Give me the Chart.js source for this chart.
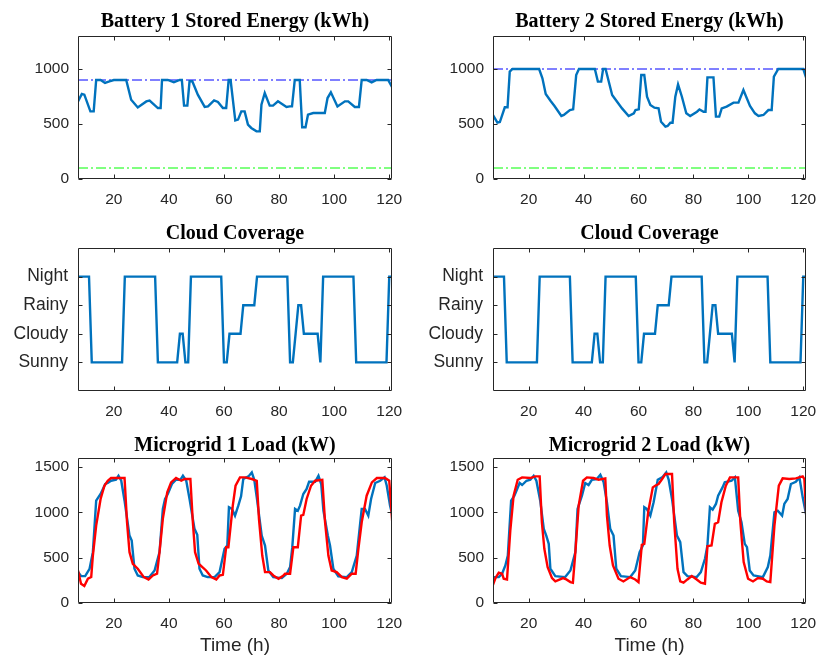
<!DOCTYPE html>
<html lang="en">
<head>
  <meta charset="UTF-8" />
  <title>Battery, Cloud Coverage and Load</title>
  <script src="https://cdn.jsdelivr.net/npm/chart.js"></script>
  <style>
    body {
      margin: 0;
      background: #fff;
      width: 820px;
      height: 659px;
      position: relative;
      overflow: hidden;
    }
    .panel {
      position: absolute;
    }
  </style>
</head>
<body>
  <div class="panel" style="left:0;top:0"><canvas id="bat1" width="410" height="215"></canvas></div>
  <div class="panel" style="left:410px;top:0"><canvas id="bat2" width="410" height="215"></canvas></div>
  <div class="panel" style="left:0;top:215px"><canvas id="cloud1" width="410" height="215"></canvas></div>
  <div class="panel" style="left:410px;top:215px"><canvas id="cloud2" width="410" height="215"></canvas></div>
  <div class="panel" style="left:0;top:430px"><canvas id="load1" width="410" height="229"></canvas></div>
  <div class="panel" style="left:410px;top:430px"><canvas id="load2" width="410" height="229"></canvas></div>

  <script>
    // time axis
    const hourRange = [7, 121];
    const hourTicks = [20, 40, 60, 80, 100, 120];

    // battery 1 stored energy (kWh)
    const bat1Hours = [
      7, 8.4, 9.3, 11.5, 12.7, 13.6, 15.2, 16.8, 18.4, 20,
      24.5, 26.3, 28.7, 31.8, 33, 36, 37, 37.5, 39.6, 41.8,
      43.9, 44.7, 45.5, 46.7, 47.5, 48.5, 50.5, 53, 54.2, 56.4,
      57.8, 59.6, 60.8, 61.7, 62.4, 64.1, 65.1, 66.3, 67.5, 68.7,
      69.9, 71.8, 73, 73.6, 74.8, 76.6, 77.8, 79.6, 82.7, 83.9,
      84.7, 85.7, 87.5, 88.4, 89.6, 90.5, 92.4, 96.6, 97.6, 98.8,
      101.2, 103.9, 105.1, 107.5, 109, 110, 111.8, 113.6, 115.4, 119.6,
      121
    ];
    const bat1Energy = [
      706, 773, 767, 615, 615, 900, 900, 873, 888, 900,
      900, 720, 650, 705, 712, 645, 645, 900, 900, 879,
      900, 900, 667, 667, 888, 888, 767, 655, 660, 715,
      700, 645, 645, 900, 900, 533, 540, 615, 615, 494,
      464, 433, 433, 676, 782, 667, 667, 706, 655, 660,
      660, 900, 900, 470, 470, 585, 600, 600, 736, 788,
      660, 706, 706, 655, 655, 900, 900, 879, 900, 900,
      836
    ];
    const bat1Max = 900;

    // battery 2 stored energy (kWh)
    const bat2Hours = [
      7, 8.6, 9.5, 11.3, 12.3, 13.1, 14.1, 23.8, 25, 26.2,
      28, 29.4, 31.9, 32.8, 35, 36.2, 37.3, 38.3, 44.1, 45.2,
      46.4, 47.1, 48, 50.4, 52.2, 54, 56.4, 58.3, 58.9, 60.1,
      61, 62.1, 63.1, 64.3, 65.8, 67.3, 68.2, 69.8, 70.6, 71.6,
      72.4, 73.4, 74.4, 75.8, 77.4, 78.8, 81.3, 82.2, 83.7, 84.4,
      85.1, 87.3, 88.2, 89.4, 90.3, 92.1, 94.6, 96.4, 98.2, 100.6,
      102.4, 103.7, 105.5, 107.3, 108.5, 109.3, 110.9, 120, 121
    ];
    const bat2Energy = [
      582, 512, 518, 652, 652, 976, 1000, 1000, 915, 773,
      709, 664, 573, 582, 627, 633, 945, 1000, 1000, 885,
      885, 1000, 1000, 764, 703, 642, 573, 597, 627, 633,
      945, 945, 748, 673, 648, 642, 521, 476, 482, 512,
      512, 748, 860, 748, 597, 573, 612, 633, 612, 612,
      924, 924, 567, 567, 642, 658, 694, 694, 809, 664,
      597, 573, 582, 627, 627, 930, 1000, 1000, 924
    ];
    const bat2Max = 1000;
    const batMin = 100;

    // cloud coverage (same weather for both microgrids)
    const cloudLabels = ['Sunny', 'Cloudy', 'Rainy', 'Night'];
    const cloudHours = [
      7, 11, 12, 23, 24, 35, 36, 43, 44, 45,
      46, 47, 48, 59, 60, 61, 62, 66, 67, 71,
      72, 83, 84, 85, 86, 87, 88, 89, 94, 95,
      96, 107, 108, 119, 120, 121
    ];
    const cloudState = [
      4, 4, 1, 1, 4, 4, 1, 1, 2, 2,
      1, 1, 4, 4, 1, 1, 2, 2, 3, 3,
      4, 4, 1, 1, 2, 3, 3, 2, 2, 1,
      4, 4, 1, 1, 4, 4
    ];

    // microgrid 1 load (kW): blue and red traces
    const load1BlueHours = [
      7, 8.1, 9.6, 11.2, 12.4, 13.6, 15.2, 16.9, 17.8, 19,
      20.8, 21.7, 22.7, 23.9, 25.7, 26.5, 27.5, 28.7, 30.5, 32.9,
      34.8, 36.6, 37.8, 38.6, 39.6, 41.1, 42.6, 44.2, 45.1, 46.3,
      47.5, 49.3, 50.3, 51.1, 52.3, 54.1, 56.6, 58.4, 60.2, 61.2,
      61.8, 62.9, 64, 65.2, 66.2, 67, 68.9, 70.1, 71, 71.9,
      73.7, 74.9, 76.1, 77.9, 81, 82.8, 84, 84.8, 85.8, 86.8,
      87.6, 88.8, 90, 90.9, 93.1, 94.3, 95.3, 96.1, 97.7, 98.5,
      99.7, 101.5, 104.6, 106.4, 108.2, 110, 111.2, 112.4, 113.4, 114.9,
      116.7, 118.3, 119.1, 120.3, 121.2
    ];
    const load1Blue = [
      341, 297, 297, 378, 561, 1129, 1203, 1313, 1324, 1349,
      1360, 1404, 1349, 1129, 744, 689, 378, 304, 286, 286,
      359, 561, 1038, 1148, 1203, 1313, 1360, 1360, 1404, 1349,
      1148, 818, 752, 378, 304, 286, 286, 341, 598, 634,
      1056, 1038, 964, 1074, 1177, 1368, 1397, 1441, 1360, 1166,
      744, 634, 359, 286, 275, 323, 396, 616, 1038, 1019,
      1074, 1203, 1258, 1338, 1338, 1404, 1313, 1019, 744, 634,
      378, 293, 286, 341, 524, 1038, 1038, 964, 1148, 1324,
      1349, 1386, 1294, 1074, 964
    ];
    const load1RedHours = [
      7, 8.1, 9.3, 10.6, 11.8, 12.4, 13.6, 15.2, 16.6, 17.8,
      19, 23.9, 24.8, 25.7, 26.9, 28.7, 30.9, 32.6, 34.2, 35.7,
      36.6, 37.8, 39.4, 40.8, 42.6, 44.5, 45.7, 47.8, 48.7, 49.5,
      50.8, 53.5, 55.4, 57.2, 58.4, 59.6, 60.8, 61.6, 63.2, 64.2,
      65.8, 67.7, 70.1, 71.9, 72.7, 73.9, 74.9, 76.7, 77.9, 79.8,
      81.6, 82.2, 84, 85.2, 86.8, 88, 88.8, 90, 91.6, 93.1,
      95.7, 96.7, 97.9, 99.1, 100.9, 102.8, 104.6, 106.4, 107.8, 108.8,
      110, 111.8, 113.7, 115.5, 118.5, 120, 121.2
    ];
    const load1Red = [
      359, 213, 187, 268, 286, 524, 854, 1148, 1294, 1349,
      1379, 1379, 891, 561, 433, 378, 286, 260, 304, 323,
      561, 928, 1221, 1331, 1379, 1349, 1368, 1368, 891, 561,
      433, 359, 286, 260, 304, 311, 616, 616, 1074, 1294,
      1386, 1386, 1368, 1349, 928, 524, 341, 341, 304, 268,
      304, 323, 323, 616, 616, 964, 972, 1148, 1294, 1349,
      1360, 891, 524, 359, 341, 286, 268, 323, 323, 598,
      891, 1184, 1331, 1379, 1379, 1349, 847
    ];

    // microgrid 2 load (kW): blue and red traces
    const load2BlueHours = [
      7, 9.1, 10.3, 11.5, 12.4, 13.6, 14.8, 16.7, 17.6, 19.2,
      20.6, 21.8, 22.8, 24.2, 25.5, 26.4, 27.3, 27.9, 29.7, 33.3,
      35.2, 37, 37.8, 39.4, 40.6, 41.8, 43, 44.8, 46.1, 47.3,
      48.5, 49.7, 50.9, 51.9, 53.6, 57, 58.8, 60.4, 61.6, 62.1,
      63, 64.3, 65.5, 67, 68.6, 70.1, 71, 72.2, 74, 75.2,
      76.4, 77.8, 81.2, 82.7, 84.2, 85.1, 86, 87, 88.2, 89,
      90.6, 91.4, 93.9, 95.1, 96.3, 97.5, 98.7, 99.5, 100.5, 101.9,
      105.3, 107.1, 108, 109.5, 110.7, 112.3, 113.1, 114.3, 115.5, 117.3,
      118.6, 119.8, 121
    ];
    const load2Blue = [
      286, 286, 323, 414, 524, 1129, 1184, 1324, 1302, 1349,
      1360, 1404, 1349, 1129, 818, 744, 653, 378, 297, 286,
      359, 561, 1038, 1184, 1324, 1302, 1360, 1368, 1415, 1331,
      1111, 818, 744, 378, 297, 286, 359, 561, 634, 1056,
      1038, 964, 1111, 1360, 1386, 1441, 1360, 1148, 744, 671,
      341, 297, 286, 341, 488, 634, 1056, 1030, 1093, 1184,
      1276, 1331, 1349, 1386, 1019, 891, 653, 616, 359, 304,
      286, 396, 524, 1001, 1019, 964, 1093, 1148, 1313, 1338,
      1386, 1166, 983
    ];
    const load2RedHours = [
      7, 7.9, 9.1, 10.3, 10.9, 12.1, 13.3, 14.5, 16, 17.6,
      20.6, 22.4, 24, 24.8, 25.7, 26.9, 28.5, 29.7, 32.5, 33.7,
      35.2, 36.1, 37, 38.2, 39.8, 41.2, 43.6, 45.5, 47.9, 48.5,
      49.5, 50.7, 52.7, 54.5, 57, 58.8, 60, 61.2, 62.1, 63.6,
      65.2, 66.1, 67.3, 68.6, 69.8, 72.2, 73, 74.2, 75.2, 76.4,
      77.8, 79.4, 81.2, 82.7, 84.2, 85.1, 86.6, 87.8, 89, 90.2,
      91.8, 93.3, 96.3, 97.1, 98.3, 99.9, 101.7, 103.5, 105.3, 106.7,
      108, 109.5, 111.1, 112.5, 114.9, 117.3, 119.8, 120.4, 121.2
    ];
    const load2Red = [
      200, 275, 334, 323, 268, 260, 799, 1184, 1360, 1386,
      1379, 1397, 1397, 891, 598, 396, 275, 238, 275, 260,
      231, 224, 561, 1074, 1349, 1386, 1379, 1360, 1375, 964,
      634, 414, 268, 238, 286, 260, 231, 642, 653, 1019,
      1276, 1294, 1313, 1368, 1423, 1423, 891, 378, 238, 224,
      260, 297, 260, 224, 213, 627, 634, 873, 891, 1111,
      1294, 1386, 1386, 891, 451, 268, 238, 275, 268, 238,
      231, 854, 1294, 1375, 1368, 1375, 1397, 1368, 891
    ];

    const axisColor = '#262626';
    Chart.defaults.font.family = "'Liberation Sans', Arial, Helvetica, sans-serif";
    Chart.defaults.color = axisColor;

    function pts(xs, ys) {
      return xs.map((x, i) => ({ x: x, y: ys[i] }));
    }

    function trace(xs, ys, color, order) {
      return {
        data: pts(xs, ys),
        borderColor: color,
        borderWidth: 2.4,
        pointRadius: 0,
        tension: 0,
        order: order,
      };
    }

    function level(value, color) {
      return {
        data: [{ x: hourRange[0], y: value }, { x: hourRange[1], y: value }],
        borderColor: color,
        borderWidth: 1,
        borderDash: [10, 3, 2, 3],
        pointRadius: 0,
        order: 3,
      };
    }

    // box round the plot area with inward ticks on all four sides
    const matlabAxes = {
      id: 'matlabAxes',
      afterDraw(chart) {
        const { ctx, chartArea: a } = chart;
        const x = chart.scales.x, y = chart.scales.y;
        const L = Math.round(a.left) + 0.5, R = Math.round(a.right) - 0.5;
        const T = Math.round(a.top) + 0.5, B = Math.round(a.bottom) - 0.5;
        const len = 4;
        ctx.save();
        ctx.strokeStyle = axisColor;
        ctx.lineWidth = 1;
        ctx.beginPath();
        ctx.rect(L, T, R - L, B - T);
        x.ticks.forEach(t => {
          const px = Math.round(x.getPixelForValue(t.value)) + 0.5;
          ctx.moveTo(px, B); ctx.lineTo(px, B - len);
          ctx.moveTo(px, T); ctx.lineTo(px, T + len);
        });
        y.ticks.forEach(t => {
          const py = Math.round(y.getPixelForValue(t.value)) + 0.5;
          ctx.moveTo(L, py); ctx.lineTo(L + len, py);
          ctx.moveTo(R, py); ctx.lineTo(R - len, py);
        });
        ctx.stroke();
        ctx.restore();
      }
    };

    function makePanel(id, p) {
      new Chart(document.getElementById(id), {
        type: 'line',
        data: { datasets: p.datasets },
        plugins: [matlabAxes],
        options: {
          responsive: false,
          animation: false,
          layout: { padding: { left: 0, right: p.padRight, top: 0, bottom: 0 } },
          plugins: {
            legend: { display: false },
            tooltip: { enabled: false },
            title: {
              display: true,
              text: p.title,
              fullSize: false,
              color: '#000',
              font: { family: "'Liberation Serif', 'Times New Roman', serif", size: 20, weight: 'bold' },
              padding: p.titlePad,
            },
          },
          scales: {
            x: {
              type: 'linear',
              min: hourRange[0],
              max: hourRange[1],
              grid: { display: false, drawTicks: false },
              border: { display: false },
              afterBuildTicks: s => { s.ticks = hourTicks.map(v => ({ value: v })); },
              afterFit: s => { s.height = p.xHeight; s.paddingLeft = 0; s.paddingRight = 0; },
              ticks: { padding: 11, maxRotation: 0, font: { size: 15.5 }, color: axisColor },
              title: {
                display: !!p.xTitle,
                text: p.xTitle || '',
                color: axisColor,
                font: { size: 19 },
                padding: { top: 0, bottom: 2 },
              },
            },
            y: {
              min: p.yMin,
              max: p.yMax,
              grid: { display: false, drawTicks: false },
              border: { display: false },
              afterBuildTicks: s => { s.ticks = p.yTicks.map(v => ({ value: v })); },
              afterFit: s => { s.width = p.yWidth; s.paddingTop = 0; s.paddingBottom = 0; },
              ticks: {
                padding: p.yLabels ? 10 : 9,
                font: { size: p.yLabels ? 17.5 : 15.5 },
                color: axisColor,
                callback: v => p.yLabels ? p.yLabels[v - 1] : v,
              },
            },
          },
        },
      });
    }

    const blue = '#0072BD';
    const red = '#FF0000';
    const left = { yWidth: 78, padRight: 18 };
    const right = { yWidth: 83, padRight: 14 };

    makePanel('bat1', Object.assign({
      title: 'Battery 1 Stored Energy (kWh)',
      titlePad: { top: 10, bottom: 2 }, xHeight: 36,
      yMin: 0, yMax: 1300, yTicks: [0, 500, 1000],
      datasets: [trace(bat1Hours, bat1Energy, blue, 2), level(bat1Max, '#0000FF'), level(batMin, '#00FF00')],
    }, left));

    makePanel('bat2', Object.assign({
      title: 'Battery 2 Stored Energy (kWh)',
      titlePad: { top: 10, bottom: 2 }, xHeight: 36,
      yMin: 0, yMax: 1300, yTicks: [0, 500, 1000],
      datasets: [trace(bat2Hours, bat2Energy, blue, 2), level(bat2Max, '#0000FF'), level(batMin, '#00FF00')],
    }, right));

    makePanel('cloud1', Object.assign({
      title: 'Cloud Coverage',
      titlePad: { top: 7, bottom: 2 }, xHeight: 39,
      yMin: 0, yMax: 5, yTicks: [1, 2, 3, 4], yLabels: cloudLabels,
      datasets: [trace(cloudHours, cloudState, blue, 2)],
    }, left));

    makePanel('cloud2', Object.assign({
      title: 'Cloud Coverage',
      titlePad: { top: 7, bottom: 2 }, xHeight: 39,
      yMin: 0, yMax: 5, yTicks: [1, 2, 3, 4], yLabels: cloudLabels,
      datasets: [trace(cloudHours, cloudState, blue, 2)],
    }, right));

    makePanel('load1', Object.assign({
      title: 'Microgrid 1 Load (kW)',
      titlePad: { top: 4, bottom: 0 }, xHeight: 56, xTitle: 'Time (h)',
      yMin: 0, yMax: 1600, yTicks: [0, 500, 1000, 1500],
      datasets: [trace(load1BlueHours, load1Blue, blue, 2), trace(load1RedHours, load1Red, red, 1)],
    }, left));

    makePanel('load2', Object.assign({
      title: 'Microgrid 2 Load (kW)',
      titlePad: { top: 4, bottom: 0 }, xHeight: 56, xTitle: 'Time (h)',
      yMin: 0, yMax: 1600, yTicks: [0, 500, 1000, 1500],
      datasets: [trace(load2BlueHours, load2Blue, blue, 2), trace(load2RedHours, load2Red, red, 1)],
    }, right));
  </script>
</body>
</html>
